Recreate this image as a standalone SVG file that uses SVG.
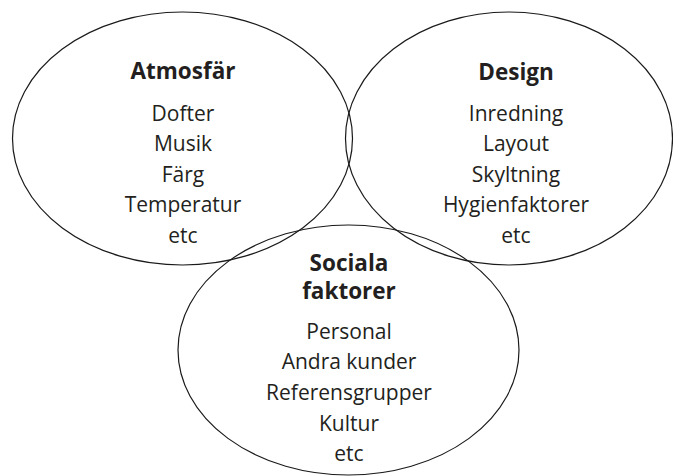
<svg xmlns="http://www.w3.org/2000/svg" width="673" height="476" viewBox="0 0 673 476">
<style>
.c{fill:none;stroke:#1a1a1a;stroke-width:1.2}
text{font-family:"Open Sans","Noto Sans",sans-serif;fill:#231f20;text-anchor:middle}
.h{font-size:22.5px;font-weight:bold}
.t{font-size:21px}
</style>
<rect width="673" height="476" fill="#fff"/>
<g id="atmosfar">
<ellipse class="c" cx="182.5" cy="138.5" rx="170" ry="126.5"/>
<text class="h" x="183" y="79">Atmosfär</text>
<text class="t" x="183" y="121">Dofter</text>
<text class="t" x="183" y="151">Musik</text>
<text class="t" x="183" y="182">Färg</text>
<text class="t" x="183" y="212">Temperatur</text>
<text class="t" x="183" y="243">etc</text>
</g>
<g id="design">
<ellipse class="c" cx="509" cy="138.5" rx="163.5" ry="126.5"/>
<text class="h" x="516" y="80">Design</text>
<text class="t" x="516" y="121">Inredning</text>
<text class="t" x="516" y="151">Layout</text>
<text class="t" x="516" y="182">Skyltning</text>
<text class="t" x="516" y="212">Hygienfaktorer</text>
<text class="t" x="516" y="243">etc</text>
</g>
<g id="sociala">
<ellipse class="c" cx="348.5" cy="350" rx="170.5" ry="125"/>
<text class="h" x="349" y="271">Sociala</text>
<text class="h" x="349" y="299">faktorer</text>
<text class="t" x="349" y="339">Personal</text>
<text class="t" x="349" y="369">Andra kunder</text>
<text class="t" x="349" y="400">Referensgrupper</text>
<text class="t" x="349" y="431">Kultur</text>
<text class="t" x="349" y="461">etc</text>
</g>
<g id="connectors"/>
</svg>
